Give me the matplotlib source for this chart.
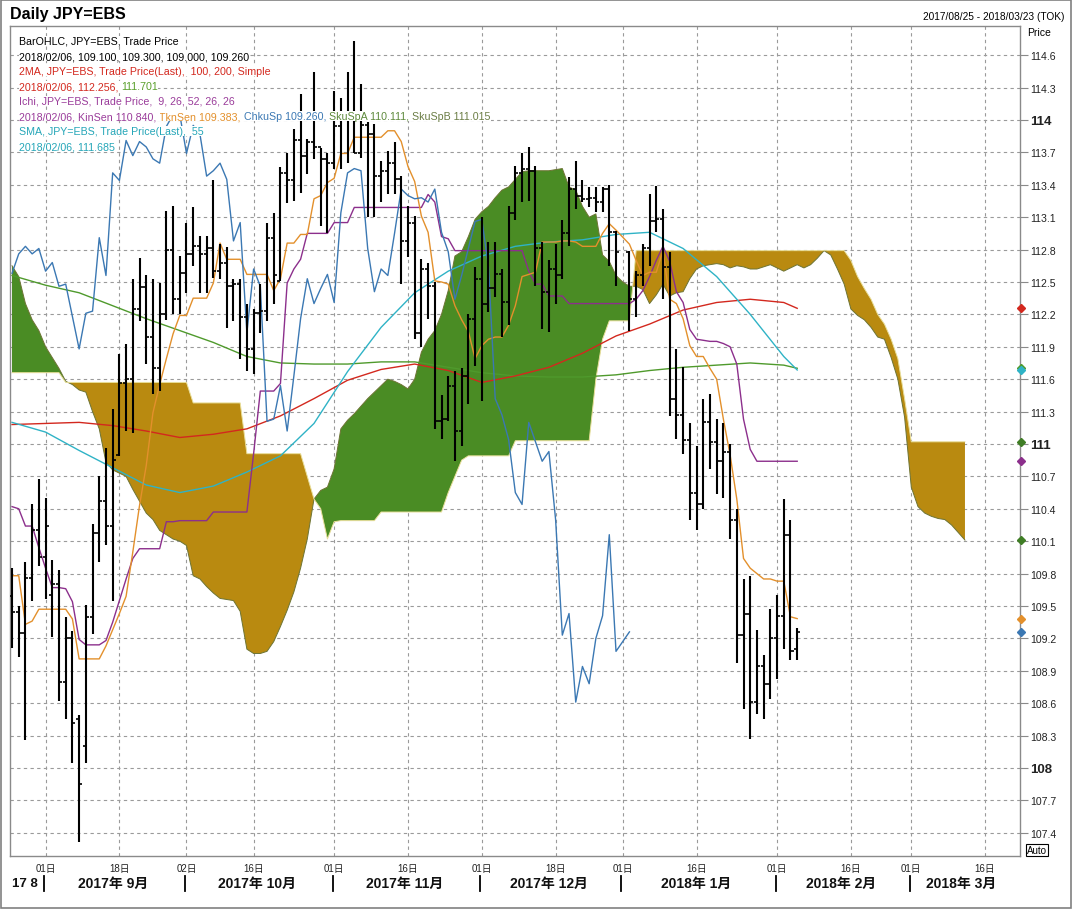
import numpy as np
import matplotlib
matplotlib.use("Agg")
import matplotlib.pyplot as plt
import matplotlib.transforms as mtransforms
from matplotlib.lines import Line2D
from matplotlib.patches import Rectangle

plt.rcParams['font.family'] = ['Liberation Sans', 'Noto Sans CJK JP', 'DejaVu Sans']

nan = float('nan')

# ---------------- data (slot = weekday index from 2017-08-25) ----------------
opens = [109.59,109.44,109.25,109.76,110.20,109.95,109.60,109.70,108.80,109.20,
 108.45,108.20,109.40,110.18,110.47,110.24,110.90,111.56,111.60,112.25,
 112.45,111.99,111.70,112.20,112.80,112.34,112.58,112.76,112.83,112.76,
 112.81,112.60,112.68,112.46,112.48,112.18,111.88,112.21,112.23,112.91,
 112.51,113.51,113.44,113.81,113.67,113.80,113.75,113.64,113.60,113.94,
 114.05,114.05,113.69,113.95,113.87,113.48,113.53,113.60,113.45,112.88,
 113.05,112.03,112.62,112.46,111.21,111.23,111.54,111.12,111.63,112.16,
 112.53,112.30,112.44,112.57,112.31,113.14,113.51,113.55,113.53,112.81,
 112.41,112.62,112.56,112.95,113.36,113.30,113.27,113.28,113.24,113.36,
 112.96,nan,112.78,112.34,112.56,112.81,113.06,113.08,112.64,111.42,
 111.27,111.04,110.55,110.44,111.20,111.02,110.84,110.93,110.30,109.23,
 109.43,108.61,108.94,108.78,109.20,109.41,110.16,109.10]
highs = [109.85,109.50,109.91,110.44,110.68,110.50,109.93,109.83,109.40,109.27,
 108.49,109.51,110.26,110.70,110.96,111.32,111.83,111.93,112.53,112.72,
 112.56,112.53,112.49,113.16,113.20,112.74,113.05,113.19,112.93,112.93,
 113.44,112.85,112.82,112.53,112.53,112.30,112.25,112.48,113.05,113.14,
 113.56,113.69,113.92,114.24,113.82,114.44,113.74,113.69,114.27,114.20,
 114.44,114.73,114.33,113.98,113.96,113.62,113.71,113.80,113.48,113.20,
 113.11,112.71,112.68,112.50,111.45,111.63,111.68,111.70,112.20,112.64,
 113.10,112.87,112.87,112.62,113.20,113.57,113.69,113.75,113.57,112.87,
 112.70,112.85,113.07,113.47,113.62,113.44,113.38,113.38,113.38,113.40,
 112.97,nan,112.79,112.60,112.85,113.31,113.39,113.18,112.78,111.88,
 111.71,111.19,110.98,111.42,111.46,111.23,111.19,111.00,110.40,109.75,
 109.78,109.28,109.05,109.47,109.60,110.49,110.30,109.30]
lows = [109.11,109.03,108.26,109.55,109.87,109.56,109.21,108.62,108.45,108.05,
 107.31,108.05,109.24,109.91,110.06,109.55,110.89,111.12,111.10,112.14,
 111.74,111.46,111.49,112.15,112.20,112.20,112.40,112.65,112.40,112.40,
 112.54,112.53,112.07,112.14,111.79,111.68,111.65,112.03,112.14,112.30,
 112.51,113.23,113.25,113.32,113.50,113.64,113.02,112.95,113.55,113.55,
 113.60,113.69,113.65,113.10,113.10,113.24,113.31,113.31,112.48,112.73,
 111.97,111.90,112.16,111.14,111.05,111.21,110.84,110.98,111.37,111.72,
 111.40,112.22,112.36,111.99,112.10,113.07,113.24,113.25,112.46,112.06,
 112.04,112.30,112.53,112.83,113.18,113.24,113.19,113.15,113.15,112.65,
 112.46,nan,112.05,112.18,112.46,112.65,112.96,112.34,111.26,111.05,
 110.91,110.30,110.20,110.40,110.77,110.54,110.50,110.12,108.97,108.55,
 108.27,108.50,108.45,108.64,108.82,109.10,109.00,109.00]
closes = [109.44,109.25,109.76,110.20,109.95,110.24,109.70,108.80,109.20,108.42,
 107.85,109.40,110.18,110.47,110.24,110.85,111.56,111.60,112.25,112.45,
 111.99,111.70,112.20,112.80,112.34,112.58,112.76,112.83,112.76,112.81,
 112.60,112.68,112.46,112.48,112.18,111.88,112.21,112.23,112.91,112.56,
 113.51,113.44,113.81,113.67,113.80,113.75,113.64,113.60,113.94,114.05,
 114.05,113.69,113.95,113.87,113.48,113.53,113.60,113.45,112.88,113.05,
 112.03,112.62,112.46,111.21,111.23,111.54,111.12,111.63,112.16,112.53,
 112.30,112.44,112.57,112.31,113.14,113.51,113.55,113.53,112.81,112.41,
 112.62,112.56,112.95,113.36,113.30,113.27,113.28,113.24,113.36,112.96,
 112.78,nan,112.34,112.56,112.81,113.06,113.08,112.64,111.42,111.27,
 111.04,110.55,110.44,111.20,111.02,110.84,110.93,110.30,109.23,109.43,
 108.61,108.94,108.78,109.20,109.41,110.16,109.08,109.26]

tenkan = [109.78,109.78,109.33,109.36,109.47,109.47,109.47,109.47,109.47,109.38,
 109.01,109.01,109.01,109.01,109.13,109.28,109.43,109.59,110.00,110.43,
 110.80,111.29,111.55,111.79,112.02,112.19,112.19,112.35,112.35,112.35,
 112.49,112.86,112.71,112.71,112.71,112.57,112.57,112.57,112.57,112.42,
 112.53,112.86,112.86,112.94,112.94,113.27,113.30,113.42,113.46,113.69,
 113.69,113.84,113.84,113.84,113.84,113.84,113.90,113.90,113.80,113.57,
 113.43,113.11,112.96,112.51,112.50,112.48,112.28,112.15,112.04,111.79,
 111.91,111.97,111.99,111.99,112.10,112.28,112.55,112.57,112.59,112.87,
 112.87,112.87,112.88,112.88,112.87,112.83,112.83,112.83,112.95,113.04,
 112.98,nan,112.85,112.70,112.56,112.59,112.59,112.79,112.34,112.30,
 112.16,111.91,111.81,111.81,111.70,111.60,111.23,110.90,110.49,109.94,
 109.85,109.80,109.75,109.75,109.73,109.73,109.40,109.383]
kijun = [110.42,110.40,110.24,110.24,110.04,109.85,109.67,109.67,109.66,109.54,
 109.19,109.14,109.14,109.14,109.18,109.35,109.55,109.75,109.94,110.03,
 110.03,110.03,110.03,110.28,110.28,110.29,110.29,110.29,110.29,110.29,
 110.37,110.37,110.37,110.37,110.37,110.37,110.91,111.49,111.49,111.49,
 111.56,112.49,112.62,112.71,112.95,112.95,112.95,112.95,113.05,113.05,
 113.05,113.19,113.19,113.19,113.19,113.19,113.19,113.19,113.19,113.19,
 113.19,113.19,113.31,113.24,112.92,112.90,112.79,112.79,112.79,112.79,
 112.79,112.79,112.79,112.79,112.79,112.79,112.79,112.60,112.48,112.48,
 112.37,112.37,112.37,112.30,112.30,112.30,112.30,112.30,112.30,112.30,
 112.30,nan,112.30,112.34,112.42,112.55,112.70,112.83,112.69,112.41,
 112.31,112.06,111.97,111.96,111.95,111.95,111.93,111.90,111.74,111.23,
 110.95,110.84,110.84,110.84,110.84,110.84,110.84,110.84]

span_a = [112.65,112.55,112.30,112.15,112.05,111.90,111.80,111.70,111.58,111.55,
 111.50,111.48,111.30,111.14,110.83,110.76,110.73,110.70,110.58,110.47,
 110.36,110.30,110.20,110.16,110.12,110.10,110.06,109.78,109.75,109.68,
 109.62,109.57,109.56,109.55,109.45,109.10,109.06,109.06,109.08,109.17,
 109.31,109.46,109.63,109.85,110.12,110.49,110.57,110.60,110.77,111.14,
 111.22,111.28,111.35,111.42,111.48,111.54,111.60,111.58,111.55,111.51,
 111.60,111.85,111.97,112.05,112.20,112.42,112.74,112.78,112.92,113.08,
 113.15,113.20,113.28,113.35,113.38,113.45,113.52,113.53,113.53,113.53,
 113.53,113.54,113.55,113.38,113.35,113.20,113.10,113.13,112.75,112.69,
 112.56,112.50,112.46,112.46,112.43,112.30,112.38,112.48,112.37,112.40,
 112.41,112.53,112.62,112.65,112.66,112.67,112.66,112.63,112.65,112.64,
 112.62,112.62,112.64,112.66,112.63,112.60,112.63,112.66,112.63,112.66,
 112.72,112.79,112.75,112.62,112.48,112.25,112.19,112.15,112.08,111.99,
 111.97,111.80,111.60,111.25,110.60,110.42,110.36,110.33,110.31,110.30,
 110.25,110.18,110.11]
span_b = ([111.66]*8 + [111.57]*19 + [111.38]*8 + [110.91]*9 +
 [110.70,110.49,110.40,110.12,110.28] + [110.29]*6 + [110.37]*10 +
 [110.55,110.70,110.85] + [110.89]*7 + [111.03]*12 + [111.60,111.97] +
 [112.14]*4 + [112.79]*32 +
 [112.70,112.55,112.44,112.34,112.20,112.11,111.97,111.79,111.42] + [111.02]*9)

ma_slots = [0,5,10,15,20,25,30,35,40,45,50,55,60,65,70,75,80,85,90,95,100,105,110,115,117]
ma100 = [111.18,111.19,111.20,111.17,111.12,111.06,111.09,111.14,111.26,111.42,111.59,111.69,
 111.74,111.68,111.57,111.63,111.71,111.84,112.00,112.11,112.24,112.31,112.34,112.31,112.256]
ma200 = [112.56,112.47,112.40,112.28,112.16,112.05,111.94,111.81,111.75,111.74,111.74,111.76,
 111.76,111.71,111.66,111.63,111.62,111.62,111.64,111.68,111.71,111.73,111.75,111.73,111.701]
sma55 = [111.20,111.11,110.94,110.78,110.62,110.55,110.61,110.74,110.89,111.19,111.67,112.08,
 112.40,112.60,112.74,112.83,112.87,112.89,112.94,112.96,112.81,112.55,112.20,111.81,111.685]

price_ticks = [107.4,107.7,108.0,108.3,108.6,108.9,109.2,109.5,109.8,110.1,110.4,110.7,111.0,
 111.3,111.6,111.9,112.2,112.5,112.8,113.1,113.4,113.7,114.0,114.3,114.6]
day_slots = [5,16,26,36,48,59,70,81,91,102,114,125,134,145]
day_labels = ["01日","18日","02日","16日","01日","16日","01日","18日","01日","16日","01日","16日","01日","16日"]
month_labels = ["2017年 9月","2017年 10月","2017年 11月","2017年 12月","2018年 1月","2018年 2月","2018年 3月"]
month_centers = [15,36.5,58.5,80,102,123.5,141.5]
month_starts = [5,26,48,70,91,114,134]
CHIKOU_SHIFT = 25

# ---------------- colours ----------------
C_RED = '#d3281e'; C_GRN = '#4f9a2c'; C_CYAN = '#2fb3c6'; C_PURP = '#8c2f8c'
C_ORNG = '#e3902c'; C_BLUE = '#3b78b3'; C_CLOUD_G = '#4a8c24'; C_CLOUD_Y = '#b98a10'
C_SPA = '#3f7d25'

W, H = 1072, 912
fig = plt.figure(figsize=(W/100, H/100), dpi=100)
fig.patch.set_facecolor('white')
ax = fig.add_axes([10/W, (H-857)/H, 1010/W, 830/H])
ax.set_xlim(-0.3, 150.2)
ax.set_ylim(107.185, 114.870)

o = np.array(opens); h = np.array(highs); l = np.array(lows); c = np.array(closes)
slots = np.arange(len(c))
valid = ~np.isnan(c)

# grid
for p in price_ticks:
    ax.axhline(p, color='#9a9a9a', lw=0.8, ls=(0, (3, 3)), zorder=0.5)
for s in day_slots:
    ax.axvline(s, color='#9a9a9a', lw=0.8, ls=(0, (3, 3)), zorder=0.5)

# cloud
a = np.array(span_a); b = np.array(span_b); cs = np.arange(len(a))
ax.fill_between(cs, a, b, where=a >= b, interpolate=True, color=C_CLOUD_G, lw=0, zorder=1)
ax.fill_between(cs, a, b, where=a < b, interpolate=True, color=C_CLOUD_Y, lw=0, zorder=1)
ax.plot(cs, a, color='#6d7434', lw=0.7, zorder=1.2)
ax.plot(cs, b, color='#e9df9a', lw=0.7, zorder=1.2)

# moving averages
ax.plot(ma_slots, ma200, color=C_GRN, lw=1.0, zorder=2)
ax.plot(ma_slots, ma100, color=C_RED, lw=1.0, zorder=2)
ax.plot(ma_slots, sma55, color=C_CYAN, lw=1.0, zorder=2)

# ichimoku lines
t = np.array(tenkan); k = np.array(kijun)
ax.plot(slots[valid], k[valid], color=C_PURP, lw=1.0, zorder=2.2)
ax.plot(slots[valid], t[valid], color=C_ORNG, lw=1.0, zorder=2.2)
vs = slots[valid]; vc = c[valid]
ax.plot(vs[:-CHIKOU_SHIFT], vc[CHIKOU_SHIFT:], color=C_BLUE, lw=1.0, zorder=2.2)

# OHLC bars
xs = slots[valid]
ax.vlines(xs, l[valid], h[valid], color='black', lw=1.5, zorder=3)
ax.hlines(o[valid], xs - 0.45, xs, color='black', lw=1.2, zorder=3)
ax.hlines(c[valid], xs, xs + 0.45, color='black', lw=1.2, zorder=3)

# right price axis
ax.yaxis.tick_right()
labels = []
for p in price_ticks:
    labels.append(str(int(round(p))) if abs(p - round(p)) < 1e-6 else f"{p:.1f}")
ax.set_yticks(price_ticks, labels)
ax.tick_params(axis='y', direction='out', length=6, width=0.8, color='#8a8a8a', pad=1,
               labelsize=7.6, labelcolor='#222222')
for lab, p in zip(ax.get_yticklabels(), price_ticks):
    if abs(p - round(p)) < 1e-6:
        lab.set_fontweight('bold'); lab.set_fontsize(9.5)
ax.set_xticks([])
for sp in ax.spines.values():
    sp.set_color('#8a8a8a'); sp.set_linewidth(1.0)

# last-value markers on the axis
last_vals = [(ma100[-1], C_RED), (ma200[-1], C_GRN), (sma55[-1], C_CYAN), (span_b[-1], C_SPA),
             (kijun[-1], C_PURP), (span_a[-1], C_SPA), (tenkan[-1], C_ORNG), (closes[-1], C_BLUE)]
for v, col in last_vals:
    ax.plot([150.35], [v], marker='D', ms=4, color=col, clip_on=False, zorder=12)

# x axis labels
trx = mtransforms.blended_transform_factory(ax.transData, fig.transFigure)
for s, lab in zip(day_slots, day_labels):
    fig.text(s, 1 - 869/H, lab, transform=trx, ha='center', va='center', fontsize=7, color='#222')
for s, lab in zip(month_centers, month_labels):
    fig.text(s, 1 - 884/H, lab, transform=trx, ha='center', va='center', fontsize=10,
             fontweight='bold', color='#111')
fig.text(12/W, 1 - 884/H, "17 8", ha='left', va='center', fontsize=9.5, fontweight='bold', color='#111')
for s in month_starts:
    fig.add_artist(Line2D([s - 0.2, s - 0.2], [1 - 877/H, 1 - 892/H], transform=trx,
                          color='black', lw=1.3))

# titles and labels
fig.text(10/W, 1 - 14/H, "Daily JPY=EBS", ha='left', va='center', fontsize=11.5, fontweight='bold')
fig.text(1064/W, 1 - 17/H, "2017/08/25 - 2018/03/23 (TOK)", ha='right', va='center', fontsize=7.3)
fig.text(1027/W, 1 - 33/H, "Price", ha='left', va='center', fontsize=7.5)
fig.text(1037/W, 1 - 851/H, "Auto", ha='center', va='center', fontsize=7,
         bbox=dict(facecolor='white', edgecolor='black', pad=1.0, lw=0.8))

# legend rows
rows = [
    (42, [("BarOHLC, JPY=EBS, Trade Price", 'black')]),
    (57, [("2018/02/06, 109.100, 109.300, 109.000, 109.260", 'black')]),
    (72, [("2MA, JPY=EBS, Trade Price(Last),  100, 200, Simple", C_RED)]),
    (87, [("2018/02/06, 112.256, ", C_RED), ("111.701", '#5aa02c')]),
    (102, [("Ichi, JPY=EBS, Trade Price,  9, 26, 52, 26, 26", '#9a3c9a')]),
    (117, [("2018/02/06, KinSen 110.840, ", '#9a3c9a'), ("TknSen 109.383, ", C_ORNG),
           ("ChkuSp 109.260, ", C_BLUE), ("SkuSpA 110.111, ", '#5e8a3c'), ("SkuSpB 111.015", '#6b7d45')]),
    (132, [("SMA, JPY=EBS, Trade Price(Last),  55", '#25a6b8')]),
    (148, [("2018/02/06, 111.685", '#25a6b8')]),
]
FS = 7.7
for ypx, parts in rows:
    prev = fig.text(19/W, 1 - ypx/H, parts[0][0], color=parts[0][1], fontsize=FS, ha='left',
                    va='center', zorder=10,
                    bbox=dict(facecolor='white', edgecolor='none', pad=0.2))
    for s, col in parts[1:]:
        prev = ax.annotate(s, xy=(1, 0.5), xycoords=prev, ha='left', va='center', color=col,
                           fontsize=FS, zorder=10, annotation_clip=False,
                           bbox=dict(facecolor='white', edgecolor='none', pad=0.2))

# outer frame
fig.add_artist(Rectangle((0.5/W, 3/H), (W - 2)/W, (H - 4)/H, transform=fig.transFigure,
                         fill=False, edgecolor='#808080', lw=1.2))

fig.savefig("out.png", dpi=100, facecolor='white')
